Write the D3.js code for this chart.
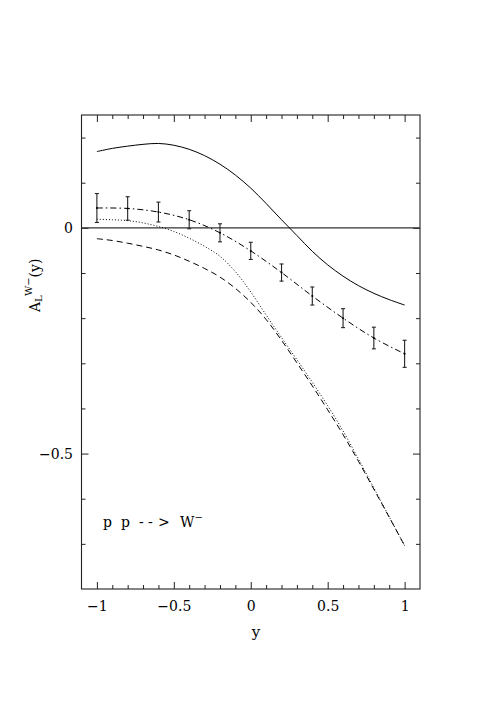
<!DOCTYPE html>
<html>
<head>
<meta charset="utf-8">
<script src="https://cdn.jsdelivr.net/npm/d3@7"></script>
<style>
  html, body { margin: 0; padding: 0; background: #fff; }
  svg { display: block; }
  text { font-family: "DejaVu Serif", serif; fill: #000; }
</style>
</head>
<body>
<svg id="chart" width="490" height="708"></svg>
<script>
// ---- data ----
const curveX = [-1, -0.9, -0.8, -0.7, -0.6, -0.5, -0.4, -0.3, -0.2, -0.1, 0, 0.1, 0.2, 0.3, 0.4, 0.5, 0.6, 0.7, 0.8, 0.9, 1];
const solidY = [0.169, 0.176, 0.181, 0.185, 0.187, 0.183, 0.174, 0.160, 0.141, 0.117, 0.088, 0.054, 0.018, -0.017, -0.052, -0.082, -0.107, -0.128, -0.145, -0.159, -0.171];
const dottedY = [0.019, 0.018, 0.016, 0.011, 0.003, -0.008, -0.023, -0.041, -0.063, -0.097, -0.142, -0.193, -0.243, -0.292, -0.342, -0.394, -0.450, -0.512, -0.576, -0.640, -0.704];
const dashedY = [-0.024, -0.028, -0.034, -0.041, -0.049, -0.060, -0.074, -0.090, -0.109, -0.134, -0.165, -0.203, -0.249, -0.299, -0.350, -0.403, -0.458, -0.517, -0.579, -0.641, -0.704];
const pointX = [-1, -0.8, -0.6, -0.4, -0.2, 0, 0.2, 0.4, 0.6, 0.8, 1];
const pointY = [0.044, 0.043, 0.035, 0.018, -0.011, -0.051, -0.099, -0.151, -0.200, -0.244, -0.279];
const pointErr = [0.032, 0.026, 0.022, 0.020, 0.020, 0.019, 0.019, 0.020, 0.021, 0.024, 0.030];
const xMajor = [-1, -0.5, 0, 0.5, 1];
const xMinor = [-0.9, -0.8, -0.7, -0.6, -0.4, -0.3, -0.2, -0.1, 0.1, 0.2, 0.3, 0.4, 0.6, 0.7, 0.8, 0.9];
const yMajor = [0, -0.5];
const yMinor = [0.2, 0.1, -0.1, -0.2, -0.3, -0.4, -0.6, -0.7];

// ---- layout ----
const L = 81.5, R = 420, T = 115, B = 589;
const svg = d3.select("#chart");
const x = d3.scaleLinear().domain([-1.1, 1.1]).range([L, R]);
const y = d3.scaleLinear().domain([-0.8, 0.25]).range([B, T]);
const fmt = d => d === 0 ? "0" : (d < 0 ? "\u2212" : "") + Math.abs(d);

function styleAxis(g) {
  g.select(".domain").remove();
  g.selectAll(".tick line").attr("stroke", "#222").attr("stroke-width", 1);
  g.selectAll(".tick text").style("font-size", "14px").style("font-family", "DejaVu Serif, serif");
}

// major ticks with labels
svg.append("g").attr("transform", `translate(0,${B})`)
  .call(d3.axisBottom(x).tickValues(xMajor).tickSize(-7).tickPadding(12).tickFormat(fmt)).call(styleAxis);
svg.append("g").attr("transform", `translate(0,${T})`)
  .call(d3.axisTop(x).tickValues(xMajor).tickSize(-7).tickFormat("")).call(styleAxis);
svg.append("g").attr("transform", `translate(${L},0)`)
  .call(d3.axisLeft(y).tickValues(yMajor).tickSize(-7).tickPadding(8.5).tickFormat(fmt)).call(styleAxis);
svg.append("g").attr("transform", `translate(${R},0)`)
  .call(d3.axisRight(y).tickValues(yMajor).tickSize(-7).tickFormat("")).call(styleAxis);
// minor ticks
svg.append("g").attr("transform", `translate(0,${B})`)
  .call(d3.axisBottom(x).tickValues(xMinor).tickSize(-4).tickFormat("")).call(styleAxis);
svg.append("g").attr("transform", `translate(0,${T})`)
  .call(d3.axisTop(x).tickValues(xMinor).tickSize(-4).tickFormat("")).call(styleAxis);
svg.append("g").attr("transform", `translate(${L},0)`)
  .call(d3.axisLeft(y).tickValues(yMinor).tickSize(-4).tickFormat("")).call(styleAxis);
svg.append("g").attr("transform", `translate(${R},0)`)
  .call(d3.axisRight(y).tickValues(yMinor).tickSize(-4).tickFormat("")).call(styleAxis);

// frame
svg.append("rect").attr("x", L).attr("y", T).attr("width", R - L).attr("height", B - T)
  .attr("fill", "none").attr("stroke", "#222").attr("stroke-width", 1.1);
// zero line
svg.append("line").attr("x1", L).attr("x2", R).attr("y1", y(0)).attr("y2", y(0))
  .attr("stroke", "#333").attr("stroke-width", 1.1);

// curves
const line = d3.line().x(d => x(d[0])).y(d => y(d[1])).curve(d3.curveCatmullRom.alpha(0.5));
function drawCurve(ys, dash) {
  svg.append("path").datum(curveX.map((v, i) => [v, ys[i]]))
    .attr("d", line).attr("fill", "none").attr("stroke", "#000").attr("stroke-width", 1)
    .attr("stroke-dasharray", dash);
}
drawCurve(solidY, null);
drawCurve(dottedY, "1,2");
drawCurve(dashedY, "6,4");

// dash-dot curve through points
svg.append("path").datum(pointX.map((v, i) => [v, pointY[i]]))
  .attr("d", line).attr("fill", "none").attr("stroke", "#000").attr("stroke-width", 1)
  .attr("stroke-dasharray", "6,3,1.5,3");

// error bars
const eb = svg.append("g").selectAll("g").data(pointX.map((v, i) => ({x: v, y: pointY[i], e: pointErr[i]})))
  .enter().append("g").attr("stroke", "#222").attr("stroke-width", 1.1);
eb.append("line").attr("x1", d => x(d.x)).attr("x2", d => x(d.x))
  .attr("y1", d => y(d.y + d.e)).attr("y2", d => y(d.y - d.e));
eb.append("line").attr("x1", d => x(d.x) - 2).attr("x2", d => x(d.x) + 2)
  .attr("y1", d => y(d.y + d.e)).attr("y2", d => y(d.y + d.e));
eb.append("line").attr("x1", d => x(d.x) - 2).attr("x2", d => x(d.x) + 2)
  .attr("y1", d => y(d.y - d.e)).attr("y2", d => y(d.y - d.e));
eb.append("circle").attr("cx", d => x(d.x)).attr("cy", d => y(d.y)).attr("r", 1)
  .attr("fill", "#000").attr("stroke", "none");

// x axis label
svg.append("text").attr("x", 256).attr("y", 637).attr("text-anchor", "middle")
  .style("font-size", "15px").text("y");

// y axis label  A_L^{W-}(y)
const yl = svg.append("text").attr("transform", "translate(40,312) rotate(-90)")
  .style("font-size", "14px");
yl.append("tspan").text("A");
yl.append("tspan").attr("dy", 2).style("font-size", "10px").text("L");
yl.append("tspan").attr("dy", -10).style("font-size", "10px").text("W\u2212");
yl.append("tspan").attr("dy", 8).style("font-size", "14px").text("(y)");

// process label
const pl = svg.append("text").attr("y", 527).style("font-size", "14px");
pl.append("tspan").attr("x", 103).text("p");
pl.append("tspan").attr("x", 121).text("p");
pl.append("tspan").attr("x", 139).text("-");
pl.append("tspan").attr("x", 148).text("-");
pl.append("tspan").attr("x", 158).text(">");
pl.append("tspan").attr("x", 180).text("W");
pl.append("tspan").attr("dy", -6).style("font-size", "10px").text("\u2212");
</script>
</body>
</html>
